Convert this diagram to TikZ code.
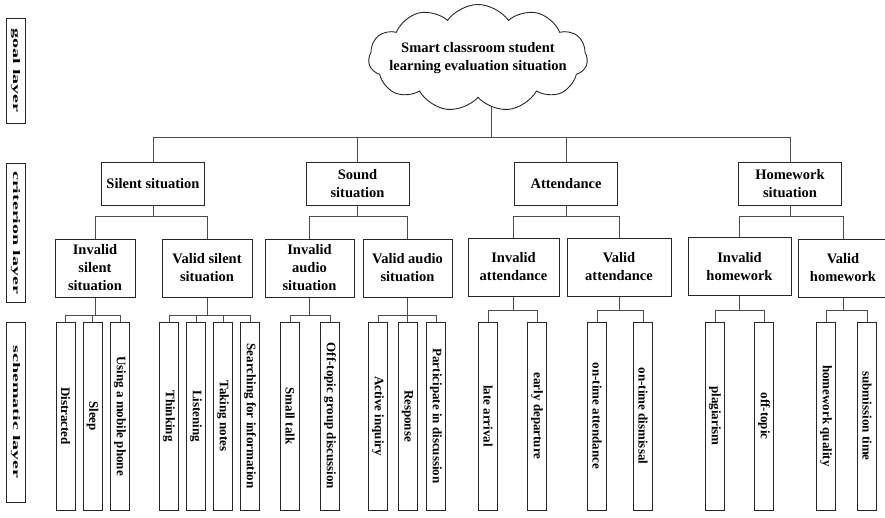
\documentclass[tikz,border=0pt]{standalone}
\usepackage{fontspec}
\usepackage{graphicx}
\setmainfont{Liberation Serif}
\usetikzlibrary{shapes.symbols}
\pgfdeclarelayer{background}
\pgfsetlayers{background,main}

\begin{document}
\begin{tikzpicture} [
                x=1pt, y=-1pt,
                cloudbox/.style={cloud,cloud puffs=11,cloud puff arc=110,cloud ignores aspect,draw=black!85,fill=white,line width=0.9pt,
                    minimum width=219pt,minimum height=107pt,inner sep=-14pt,align=center,font=\fontsize{14.5}{18}\selectfont\bfseries},
                critbox/.style={rectangle,draw=black!85,fill=white,line width=0.9pt,minimum width=103pt,minimum height=43pt,
                    inner sep=2pt,align=center,font=\fontsize{14.5}{18}\selectfont\bfseries},
                subbox/.style={critbox,minimum height=58pt},
                leafbox/.style={rectangle,draw=black!85,fill=white,line width=0.9pt,rotate=-90,minimum width=188pt,
                    minimum height=19pt,inner sep=0pt,font=\fontsize{13}{15}\selectfont\bfseries},
                layerbox/.style={rectangle,draw=black!85,line width=0.9pt,rotate=-90,minimum height=19pt,
                    inner sep=0pt,font=\fontsize{10}{12}\selectfont\bfseries},
                link/.style = {draw=black!70,line width=0.9pt},
            ]
            \useasboundingbox (0,0) rectangle (885,517);
            % layer labels
            \foreach \y/\len/\name/\txt in {
                    70.5/105/goallayer/goal layer, 232.5/139/critlayer/criterion layer, 412/180/schemlayer/schematic layer}
                \node[layerbox,minimum width=\len pt] (\name) at (15.5,\y) {\scalebox{2}[1]{\txt}};
            % goal
            \node[cloudbox] (goal) at (478,58) {Smart classroom student\\learning evaluation situation};
            % criteria
            \foreach \pos/\name/\txt in {
                    {(153,183.5)/silent/{Silent situation}}, {(357.5,183.5)/sound/{Sound\\situation}},
                    {(566,183.5)/attend/{Attendance}}, {(790,183.5)/homework/{Homework\\situation}}}
                \node[critbox] (\name) at \pos {\txt};
            \begin{pgfonlayer}{background}
            \foreach \name in {silent,sound,attend,homework}
                \path[link] ([xshift=13pt]goal.center) -- ++(0,79) -| (\name.north);
            \end{pgfonlayer}
            % sub criteria
            \foreach \pos/\name/\w/\txt in {
                    {(95,268)/invsilent/80/{Invalid\\silent\\situation}}, {(207,268)/valsilent/90/{Valid silent\\situation}},
                    {(309.5,268)/invaudio/89/{Invalid\\audio\\situation}}, {(407.5,268)/valaudio/89/{Valid audio\\situation}},
                    {(513.5,267)/invattend/91/{Invalid\\attendance}}, {(619,267)/valattend/104/{Valid\\attendance}},
                    {(739.5,266.5)/invhome/103/{Invalid\\homework}}, {(843,268)/valhome/90/{Valid\\homework}}}
                \node[subbox,minimum width=\w pt] (\name) at \pos {\txt};
            \foreach \up/\name in {
                    silent/invsilent, silent/valsilent, sound/invaudio, sound/valaudio,
                    attend/invattend, attend/valattend, homework/invhome, homework/valhome}
                \path[link] (\up.south) -- ++(0,11) -| (\name.north);
            % schemes
            \foreach \x/\name/\up/\d/\txt in {
                    65.5/distracted/invsilent/18/Distracted, 92.5/sleep/invsilent/18/Sleep,
                    120/phone/invsilent/18/Using a mobile phone,
                    169/thinking/valsilent/18/Thinking, 196/listening/valsilent/18/Listening,
                    223/notes/valsilent/18/Taking notes, 250/searching/valsilent/18/Searching for information,
                    290/smalltalk/invaudio/18/Small talk, 330/offgroup/invaudio/18/Off-topic group discussion,
                    378/inquiry/valaudio/18/Active inquiry, 407.5/response/valaudio/18/Response,
                    436/participate/valaudio/18/Participate in discussion,
                    488/late/invattend/14/late arrival, 537/early/invattend/14/early departure,
                    597/ontime/valattend/14/on-time attendance, 643/dismissal/valattend/14/on-time dismissal,
                    715/plagiarism/invhome/14.5/plagiarism, 764/offtopic/invhome/14.5/off-topic,
                    826/quality/valhome/13/homework quality, 867/submission/valhome/13/submission time}
                {
                \node[leafbox] (\name) at (\x,416) {\txt};
                \begin{pgfonlayer}{background}
                \path[link] (\up.south) -- ++(0,\d) -| (\name.west);
                \end{pgfonlayer}
                }
        \end{tikzpicture}
\end{document}
